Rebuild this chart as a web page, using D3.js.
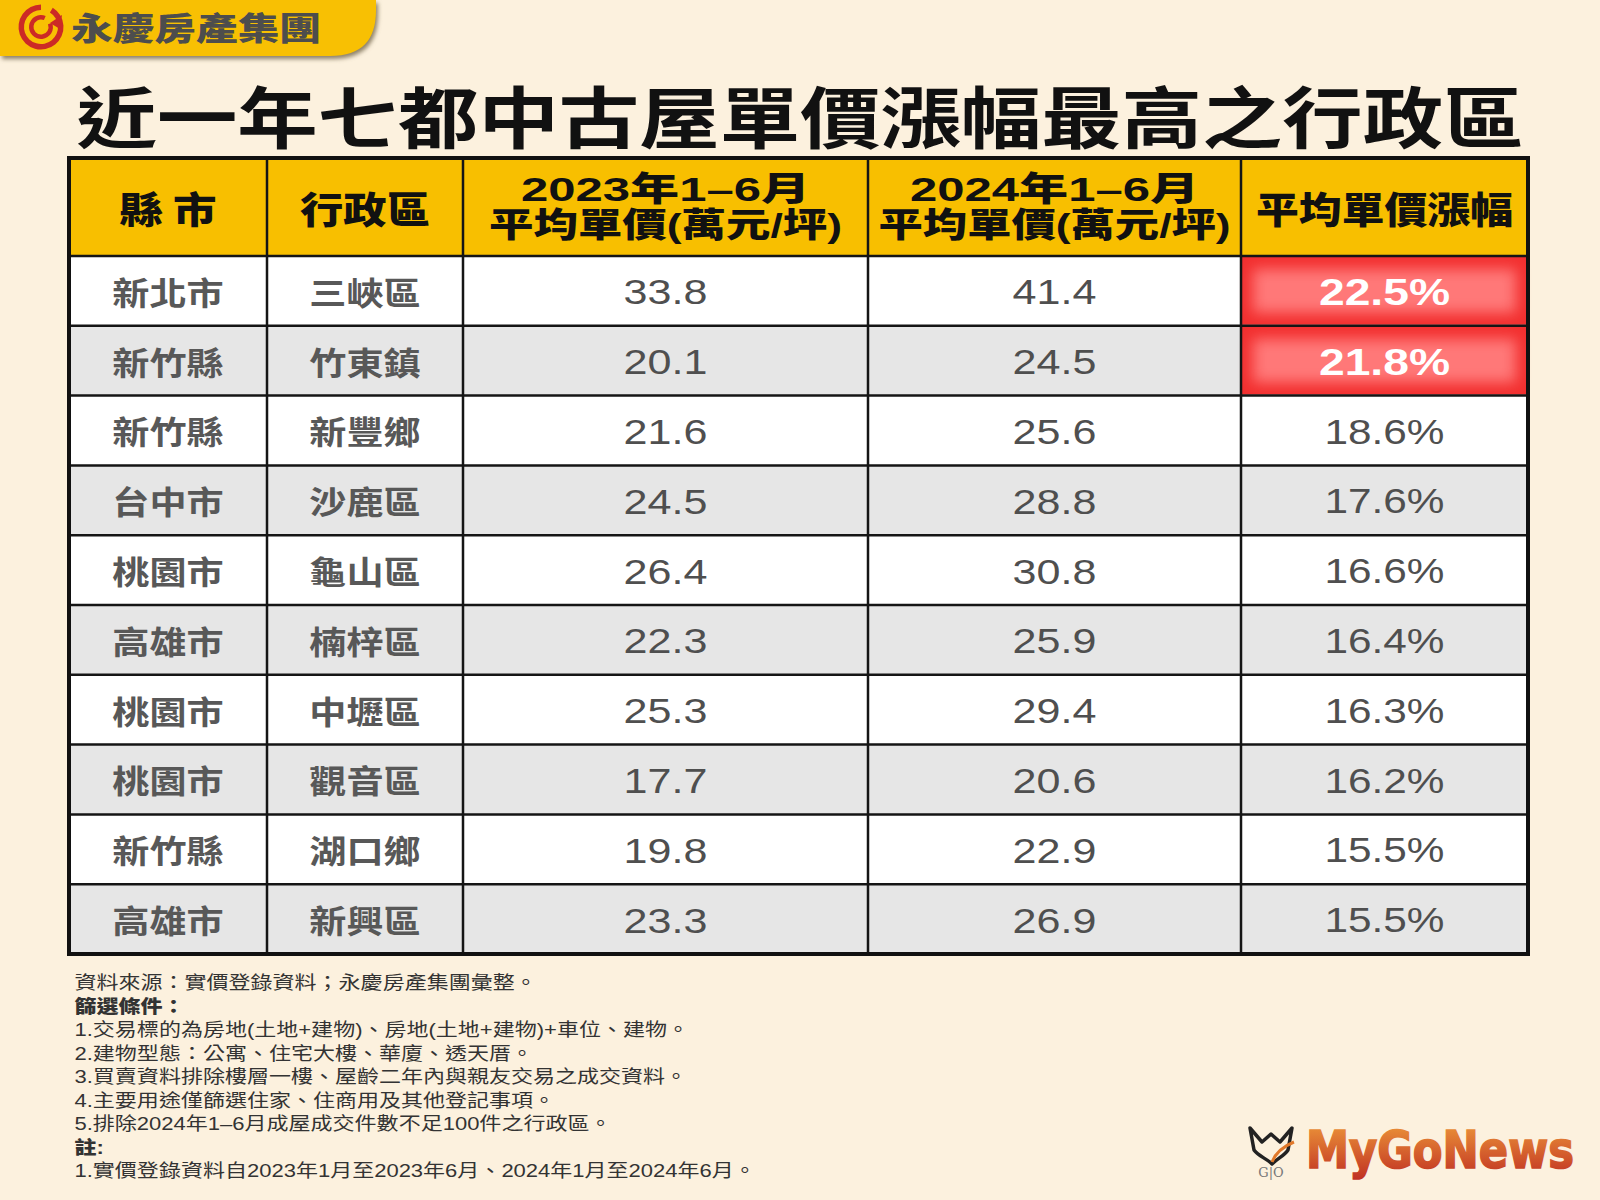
<!DOCTYPE html>
<html><head><meta charset="utf-8">
<script src="https://cdn.jsdelivr.net/npm/d3@7"></script>
<style>html,body{margin:0;padding:0;background:#fcf1de}svg{display:block}</style>
</head><body>
<svg id="c" width="1600" height="1200"></svg>
<script>
// ---------- DATA ----------
const titleText = "近一年七都中古屋單價漲幅最高之行政區";
const brandText = "永慶房產集團";
const headerLines = [["縣 市"], ["行政區"], ["2023年1–6月", "平均單價(萬元/坪)"], ["2024年1–6月", "平均單價(萬元/坪)"], ["平均單價漲幅"]];
const counties  = ["新北市","新竹縣","新竹縣","台中市","桃園市","高雄市","桃園市","桃園市","新竹縣","高雄市"];
const districts = ["三峽區","竹東鎮","新豐鄉","沙鹿區","龜山區","楠梓區","中壢區","觀音區","湖口鄉","新興區"];
const price2023 = [33.8, 20.1, 21.6, 24.5, 26.4, 22.3, 25.3, 17.7, 19.8, 23.3];
const price2024 = [41.4, 24.5, 25.6, 28.8, 30.8, 25.9, 29.4, 20.6, 22.9, 26.9];
const growthPct = [22.5, 21.8, 18.6, 17.6, 16.6, 16.4, 16.3, 16.2, 15.5, 15.5];
const highlightTop = 2;
const notes = [
  {t:"資料來源：實價登錄資料；永慶房產集團彙整。", b:false},
  {t:"篩選條件：", b:true},
  {t:"1.交易標的為房地(土地+建物)、房地(土地+建物)+車位、建物。", b:false},
  {t:"2.建物型態：公寓、住宅大樓、華廈、透天厝。", b:false},
  {t:"3.買賣資料排除樓層一樓、屋齡二年內與親友交易之成交資料。", b:false},
  {t:"4.主要用途僅篩選住家、住商用及其他登記事項。", b:false},
  {t:"5.排除2024年1–6月成屋成交件數不足100件之行政區。", b:false},
  {t:"註:", b:true},
  {t:"1.實價登錄資料自2023年1月至2023年6月、2024年1月至2024年6月。", b:false}
];
const sourceLogo = "MyGoNews";

// ---------- LAYOUT ----------
const CJK = "'Noto Sans CJK TC','Noto Sans CJK SC','Noto Sans CJK JP',sans-serif";
const NUM = "'Liberation Sans','Noto Sans',Arial,sans-serif";
const svg = d3.select("#c");
const defs = svg.append("defs");

svg.append("rect").attr("width",1600).attr("height",1200).attr("fill","#fcf1de");

function label(parent, x, y, s, o) {
  const g = parent.append("g").attr("transform", `translate(${x},${y}) scale(${o.sx||1},${o.sy||1})`);
  const t = g.append("text")
    .attr("text-anchor", o.anchor || "middle")
    .attr("dominant-baseline", "central")
    .attr("font-family", o.family || CJK)
    .attr("font-size", o.size)
    .attr("font-weight", o.weight || 400)
    .attr("fill", o.fill || "#000")
    .text(s);
  if (o.len) t.attr("textLength", o.len / (o.sx||1)).attr("lengthAdjust", "spacingAndGlyphs");
  return t;
}

// ---------- BRAND BANNER ----------
const blur2 = defs.append("filter").attr("id","sh").attr("x","-10%").attr("y","-10%").attr("width","130%").attr("height","150%");
blur2.append("feGaussianBlur").attr("stdDeviation",2);
const bannerPath = "M0,0 H376 V10 C376,40 362,56 330,56 H0 Z";
svg.append("path").attr("d", bannerPath).attr("transform","translate(2,3)").attr("fill","#8d8167").attr("filter","url(#sh)");
svg.append("path").attr("d", bannerPath).attr("fill","#f8c003");
const lg = svg.append("g").attr("transform","translate(41,27)");
lg.append("path").attr("d", d3.arc()({innerRadius:17, outerRadius:22.5, startAngle:0.55, endAngle:2*Math.PI}))
  .attr("fill","#cc2a26");
lg.append("path").attr("d", d3.arc()({innerRadius:7.5, outerRadius:12, startAngle:1.2, endAngle:2*Math.PI+0.4}))
  .attr("fill","#cc2a26");
lg.append("path").attr("d","M9,-4 L21,-12 L19,2 Z").attr("fill","#cc2a26");
label(svg, 196, 26, brandText, {size:32, weight:900, fill:"#4d4d4d", len:250});

// ---------- TITLE ----------
label(svg, 800, 113, titleText, {size:67, weight:700, fill:"#111", len:1447});

// ---------- TABLE ----------
const colEdges = [69, 267, 463, 868, 1241, 1528];
const tableTop = 158, headBottom = 256, tableBottom = 954;
const nCols = headerLines.length;
const colLeft = d3.scaleOrdinal().domain(d3.range(nCols)).range(colEdges.slice(0, nCols));
const colRight = d3.scaleOrdinal().domain(d3.range(nCols)).range(colEdges.slice(1));
const colMid = i => (colLeft(i) + colRight(i)) / 2;
const y = d3.scaleBand().domain(d3.range(counties.length)).range([headBottom, tableBottom]);

const tbl = svg.append("g");
tbl.append("rect").attr("x", colEdges[0]).attr("y", tableTop).attr("width", colEdges[nCols]-colEdges[0])
  .attr("height", headBottom - tableTop).attr("fill", "#f8bf00");
tbl.selectAll("rect.row").data(d3.range(counties.length)).join("rect").attr("class","row")
  .attr("x", colEdges[0]).attr("y", i => y(i)).attr("width", colEdges[nCols]-colEdges[0])
  .attr("height", y.bandwidth()).attr("fill", i => i % 2 ? "#e6e6e6" : "#ffffff");

// highlight cells
const hb = defs.append("filter").attr("id","hb").attr("x","-20%").attr("y","-40%").attr("width","140%").attr("height","180%");
hb.append("feGaussianBlur").attr("stdDeviation", 7);
const hl = d3.range(highlightTop);
const hg = tbl.selectAll("g.hl").data(hl).join("g").attr("class","hl");
hg.append("rect").attr("x", colLeft(4)+1).attr("y", i => y(i)+1).attr("width", colRight(4)-colLeft(4)-2)
  .attr("height", y.bandwidth()-2).attr("fill", "#f22f2f");
hg.append("rect").attr("x", colLeft(4)+12).attr("y", i => y(i)+13).attr("width", colRight(4)-colLeft(4)-24)
  .attr("height", y.bandwidth()-26).attr("fill", "#ff7878").attr("filter","url(#hb)");

// grid lines
const lines = tbl.append("g").attr("stroke", "#151515");
lines.selectAll("line.h").data(d3.range(1, counties.length)).join("line").attr("class","h")
  .attr("x1", colEdges[0]).attr("x2", colEdges[nCols]).attr("y1", i => y(i)).attr("y2", i => y(i)).attr("stroke-width", 2.5);
lines.append("line").attr("x1", colEdges[0]).attr("x2", colEdges[nCols]).attr("y1", headBottom).attr("y2", headBottom).attr("stroke-width", 2.5);
lines.selectAll("line.v").data(d3.range(1, nCols)).join("line").attr("class","v")
  .attr("x1", i => colLeft(i)).attr("x2", i => colLeft(i)).attr("y1", tableTop).attr("y2", tableBottom).attr("stroke-width", 2.5);
tbl.append("rect").attr("x", colEdges[0]).attr("y", tableTop).attr("width", colEdges[nCols]-colEdges[0])
  .attr("height", tableBottom - tableTop).attr("fill","none").attr("stroke","#111").attr("stroke-width", 4);

// header text
const headLens = [[97], [130], [289, 353], [289, 352], [257]];
const HFAM = "'Liberation Sans'," + CJK;
headerLines.forEach((ls, i) => {
  if (ls.length === 1) {
    label(tbl, colMid(i), 208, ls[0], {size:37, weight:900, fill:"#111", len:headLens[i][0]});
  } else {
    label(tbl, colMid(i), 189, ls[0], {size:30, sy:1.12, family:HFAM, weight:900, fill:"#111", len:headLens[i][0]});
    label(tbl, colMid(i), 225, ls[1], {size:30, sy:1.12, family:HFAM, weight:900, fill:"#111", len:headLens[i][1]});
  }
});

// body text
const yc = i => y(i) + y.bandwidth()/2;
counties.forEach((c, i) => {
  label(tbl, colMid(0), yc(i), c, {size:32, weight:700, fill:"#585858", sx:1.16});
  label(tbl, colMid(1), yc(i), districts[i], {size:32, weight:700, fill:"#585858", sx:1.16});
  label(tbl, colMid(2), yc(i)+1, d3.format(".1f")(price2023[i]), {size:35, family:NUM, fill:"#4f4f4f", sx:1.23});
  label(tbl, colMid(3), yc(i)+1, d3.format(".1f")(price2024[i]), {size:35, family:NUM, fill:"#4f4f4f", sx:1.23});
  const hi = i < highlightTop;
  label(tbl, colMid(4), yc(i)+1, d3.format(".1f")(growthPct[i]) + "%",
    {size: hi ? 37 : 35, family:NUM, weight: hi ? 700 : 400, fill: hi ? "#ffffff" : "#4f4f4f", sx: hi ? 1.25 : 1.21});
});

// ---------- NOTES ----------
const noteY = d3.scaleLinear().domain([0, notes.length-1]).range([983, 1171]);
notes.forEach((n, i) => {
  label(svg, 74.5, noteY(i), n.t, {size:18.5, anchor:"start", family:"'Liberation Sans'," + CJK, weight: n.b ? 900 : 400, fill:"#333", sx:1.19});
});

// ---------- SOURCE LOGO ----------
const grad = defs.append("linearGradient").attr("id","mg").attr("x1",0).attr("y1",0).attr("x2",0).attr("y2",1);
grad.append("stop").attr("offset","0%").attr("stop-color","#ee9a3a");
grad.append("stop").attr("offset","100%").attr("stop-color","#bf2e22");
svg.append("g").attr("transform","translate(1306,1168) scale(1,1.13)")
  .append("text").attr("x", 0).attr("y", 0).attr("font-family","'DejaVu Sans',sans-serif")
  .attr("font-weight",700).attr("font-size",46).attr("fill","url(#mg)").attr("stroke","url(#mg)").attr("stroke-width",1.5)
  .attr("textLength",268).attr("lengthAdjust","spacingAndGlyphs").text(sourceLogo);
const ic = svg.append("g").attr("transform","translate(1248,1128)");
ic.append("path").attr("d","M2,0 L14,14 L23,6 L32,14 L44,0 L40,22 C36,28 30,30 24,36 C18,30 10,28 6,22 Z")
  .attr("fill","none").attr("stroke","#222").attr("stroke-width",3.5).attr("stroke-linejoin","round");
ic.append("path").attr("d","M24,34 C28,24 36,18 46,14").attr("fill","none").attr("stroke","#e0782a").attr("stroke-width",3);
ic.append("text").attr("x",23).attr("y",49).attr("text-anchor","middle").attr("font-family","'DejaVu Serif',serif")
  .attr("font-size",13).attr("fill","#777").text("G|O");
</script>
</body></html>
